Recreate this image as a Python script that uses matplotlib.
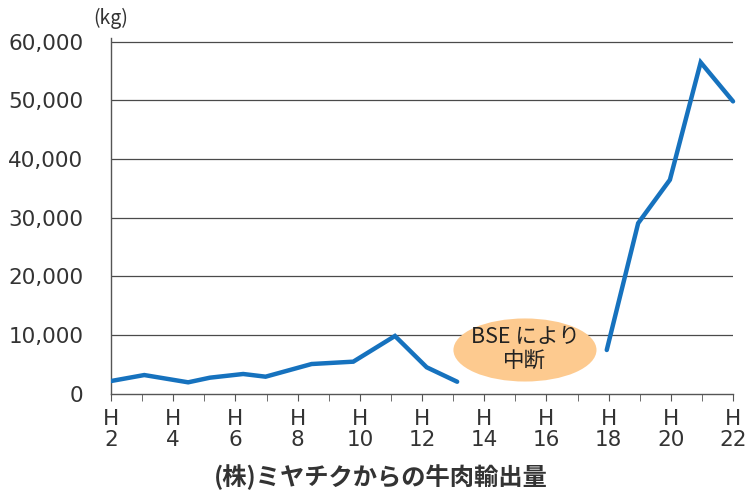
import matplotlib
matplotlib.use('Agg')
import matplotlib.pyplot as plt
from matplotlib.patches import Ellipse
from matplotlib.ticker import FuncFormatter

plt.rcParams['font.family'] = ['Noto Sans CJK JP', 'DejaVu Sans']

# years (Heisei)
years_a = [2.0, 3.07, 4.48, 5.18, 6.25, 6.97, 8.45, 9.79, 11.13, 12.15, 13.13]
export_a = [2130, 3150, 1910, 2700, 3330, 2870, 5030, 5430, 9810, 4470, 2010]
years_b = [17.94, 18.95, 19.97, 20.96, 22.0]
export_b = [7420, 29040, 36430, 56450, 49800]

major_years = list(range(2, 23, 2))
minor_years = list(range(3, 22, 2))
y_ticks = [0, 10000, 20000, 30000, 40000, 50000, 60000]

txt = '#333333'
line_col = '#1672be'

fig = plt.figure(figsize=(7.47, 4.97), dpi=100)
ax = fig.add_axes([0.1486, 0.2082, 0.8327, 0.7153])

for v in y_ticks[1:]:
    ax.axhline(v, color='#4a4a4a', lw=0.9, zorder=1)

ax.plot(years_a, export_a, color=line_col, lw=3.2, solid_capstyle='round',
        solid_joinstyle='miter', zorder=3)
ax.plot(years_b, export_b, color=line_col, lw=3.2, solid_capstyle='round',
        solid_joinstyle='miter', zorder=3, clip_on=False)

# BSE bubble
ax.add_patch(Ellipse((15.31, 7420), 4.6, 10750, facecolor='#fdca8f',
                     edgecolor='none', zorder=2))
ax.text(15.31, 7500, 'BSE により\n中断', ha='center', va='center',
        fontsize=15.5, color='#222222', linespacing=1.15, zorder=4)

ax.set_xlim(2, 22)
ax.set_ylim(0, 60600)
ax.set_yticks(y_ticks)
ax.yaxis.set_major_formatter(FuncFormatter(lambda v, p: f'{int(v):,}'))
ax.set_xticks(major_years)
ax.set_xticks(minor_years, minor=True)
ax.set_xticklabels([f'H\n{y}' for y in major_years])

for s in ['top', 'right']:
    ax.spines[s].set_visible(False)
for s in ['left', 'bottom']:
    ax.spines[s].set_color('#555555')
    ax.spines[s].set_linewidth(1.0)

ax.tick_params(axis='y', length=0, pad=20, labelcolor=txt)
ax.tick_params(axis='x', which='both', direction='out', length=5,
               color='#555555', labelcolor=txt, pad=6)
for lab in ax.get_xticklabels():
    lab.set_family(['DejaVu Sans'])
    lab.set_fontsize(15.5)
    lab.set_linespacing(1.1)
for lab in ax.get_yticklabels():
    lab.set_family(['DejaVu Sans'])
    lab.set_fontsize(15.5)

fig.text(0.148, 0.962, '(kg)', ha='center', va='center', fontsize=14,
         color=txt)
fig.text(0.51, 0.04, '(株)ミヤチクからの牛肉輸出量', ha='center',
         va='center', fontsize=17.5, fontweight='bold', color=txt)

fig.savefig('out.png', dpi=100)
